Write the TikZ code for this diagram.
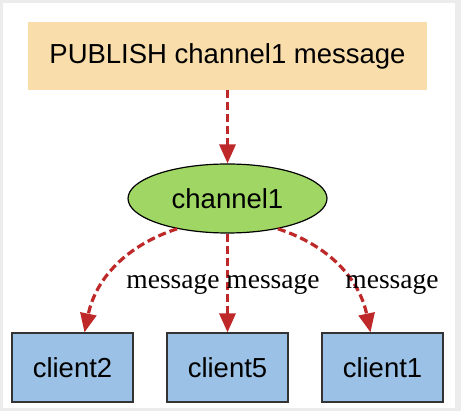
\documentclass[tikz,border=0pt]{standalone}
\usepackage{fontspec}
\setmainfont{Liberation Serif}
\setsansfont{Liberation Sans}
\usetikzlibrary{shapes.geometric,arrows.meta,calc}
\definecolor{pubfill}{RGB}{249,221,170}
\definecolor{chfill}{RGB}{160,215,100}
\definecolor{clfill}{RGB}{155,194,230}
\definecolor{arrred}{RGB}{190,40,40}
\definecolor{bggray}{RGB}{236,236,236}
\tikzset{
  pubbox/.style={rectangle, fill=pubfill, minimum width=399pt, minimum height=68pt, inner sep=0pt, font=\sffamily\fontsize{27.5}{32}\selectfont},
  chnode/.style={ellipse, draw=black, line width=1.2pt, fill=chfill, minimum width=199pt, minimum height=69pt, inner sep=0pt, font=\sffamily\fontsize{27.5}{32}\selectfont},
  clbox/.style={rectangle, draw=black!80, line width=1.2pt, fill=clfill, minimum width=121pt, minimum height=69pt, inner sep=0pt, font=\sffamily\fontsize{27.5}{32}\selectfont},
  msgarrow/.style={draw=arrred, line width=3.2pt, dash pattern=on 8pt off 4pt, -{Triangle[length=19pt,width=16pt,fill=arrred]}},
  msglabel/.style={anchor=base, inner sep=0pt, font=\rmfamily\fontsize{27.5}{32}\selectfont}
}
\begin{document}
\begin{tikzpicture}[x=1pt,y=-1pt]
\fill[bggray] (0,0) rectangle (461,411);
\fill[white] (3,3) rectangle (455,408);
\useasboundingbox (0,0) rectangle (461,411);
\node[pubbox] (pub) at (227.5,56) {PUBLISH channel1 message};
\node[chnode] (ch) at (227.5,198.5) {channel1};
\node[clbox] (c2) at (72.5,367.5) {client2};
\node[clbox] (c5) at (227.5,367.5) {client5};
\node[clbox] (c1) at (382.5,367.5) {client1};
\coordinate (c2t) at ($(c2.north)+(12,0)$);
\coordinate (c1t) at ($(c1.north)+(-12,0)$);
\draw[msgarrow] (pub.south) -- (ch.north);
\draw[msgarrow] (ch.south) -- (c5.north);
\draw[msgarrow] (ch.211) to[bend right=30] (c2t);
\draw[msgarrow] (ch.329) to[bend left=30] (c1t);
\node[msglabel] (m1) at (173,289) {message};
\node[msglabel] (m2) at (273,289) {message};
\node[msglabel] (m3) at (392,289) {message};
\end{tikzpicture}
\end{document}
